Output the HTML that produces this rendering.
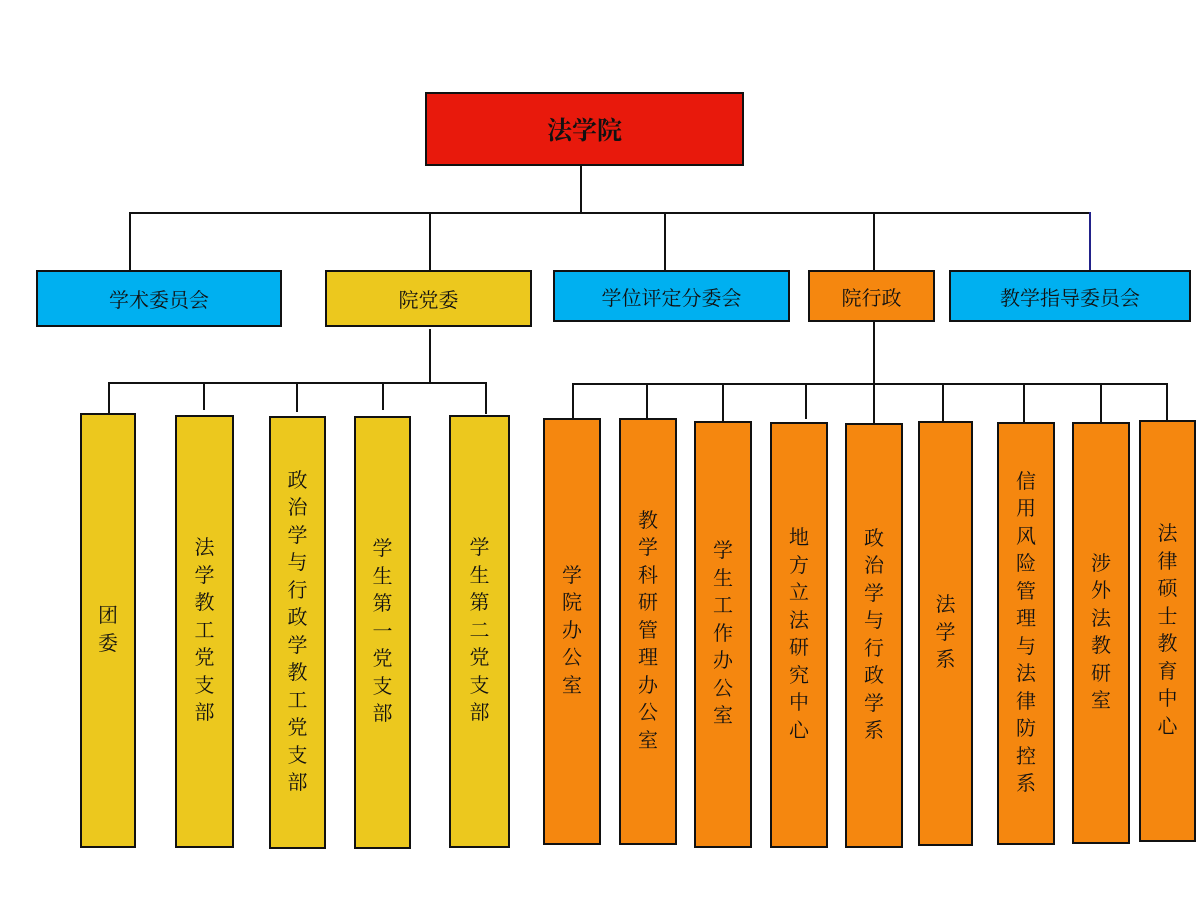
<!DOCTYPE html>
<html><head><meta charset="utf-8"><style>
body{margin:0;width:1200px;height:900px;background:#fff;position:relative;overflow:hidden;font-family:"Liberation Serif","Noto Serif CJK SC",serif;}
.b{position:absolute;box-sizing:border-box;border:2px solid #111;display:flex;align-items:center;justify-content:center;color:#111;font-size:20px;}
.v{flex-direction:column;line-height:27.5px;text-align:center;}
.l{position:absolute;background:#111;}
.B{background:#00b0f0}.Y{background:#ecc81e}.O{background:#f5870f}
</style></head><body>
<div class="b" style="left:425px;top:92px;width:319px;height:74px;background:#e8190c;font-size:25px;font-weight:bold;">法学院</div>
<div class="l" style="left:580px;top:165px;width:2px;height:49px"></div>
<div class="l" style="left:129px;top:212px;width:962px;height:2px"></div>
<div class="l" style="left:129px;top:212px;width:2px;height:58px"></div>
<div class="l" style="left:429px;top:212px;width:2px;height:58px"></div>
<div class="l" style="left:664px;top:212px;width:2px;height:58px"></div>
<div class="l" style="left:873px;top:212px;width:2px;height:58px"></div>
<div class="l" style="left:1089px;top:212px;width:2px;height:58px;background:#22228a"></div>
<div class="b B" style="left:36px;top:270px;width:246px;height:57px">学术委员会</div>
<div class="b Y" style="left:325px;top:270px;width:207px;height:57px">院党委</div>
<div class="b B" style="left:553px;top:270px;width:237px;height:52px">学位评定分委会</div>
<div class="b O" style="left:808px;top:270px;width:127px;height:52px">院行政</div>
<div class="b B" style="left:949px;top:270px;width:242px;height:52px">教学指导委员会</div>
<div class="l" style="left:429px;top:329px;width:2px;height:55px"></div>
<div class="l" style="left:108px;top:382px;width:379px;height:2px"></div>
<div class="l" style="left:108px;top:382px;width:2px;height:32px"></div>
<div class="l" style="left:203px;top:382px;width:2px;height:28px"></div>
<div class="l" style="left:296px;top:382px;width:2px;height:30px"></div>
<div class="l" style="left:382px;top:382px;width:2px;height:28px"></div>
<div class="l" style="left:485px;top:382px;width:2px;height:32px"></div>
<div class="b Y v" style="left:80px;top:413px;width:56px;height:435px">团<br>委</div>
<div class="b Y v" style="left:175px;top:415px;width:59px;height:433px">法<br>学<br>教<br>工<br>党<br>支<br>部</div>
<div class="b Y v" style="left:269px;top:416px;width:57px;height:433px">政<br>治<br>学<br>与<br>行<br>政<br>学<br>教<br>工<br>党<br>支<br>部</div>
<div class="b Y v" style="left:354px;top:416px;width:57px;height:433px">学<br>生<br>第<br>一<br>党<br>支<br>部</div>
<div class="b Y v" style="left:449px;top:415px;width:61px;height:433px">学<br>生<br>第<br>二<br>党<br>支<br>部</div>
<div class="l" style="left:873px;top:321px;width:2px;height:102px"></div>
<div class="l" style="left:572px;top:383px;width:596px;height:2px"></div>
<div class="l" style="left:572px;top:383px;width:2px;height:35px"></div>
<div class="l" style="left:646px;top:383px;width:2px;height:35px"></div>
<div class="l" style="left:722px;top:383px;width:2px;height:38px"></div>
<div class="l" style="left:805px;top:383px;width:2px;height:36px"></div>
<div class="l" style="left:942px;top:383px;width:2px;height:38px"></div>
<div class="l" style="left:1023px;top:383px;width:2px;height:39px"></div>
<div class="l" style="left:1100px;top:383px;width:2px;height:39px"></div>
<div class="l" style="left:1166px;top:383px;width:2px;height:37px"></div>
<div class="b O v" style="left:543px;top:418px;width:58px;height:427px">学<br>院<br>办<br>公<br>室</div>
<div class="b O v" style="left:619px;top:418px;width:58px;height:427px">教<br>学<br>科<br>研<br>管<br>理<br>办<br>公<br>室</div>
<div class="b O v" style="left:694px;top:421px;width:58px;height:427px">学<br>生<br>工<br>作<br>办<br>公<br>室</div>
<div class="b O v" style="left:770px;top:422px;width:58px;height:426px">地<br>方<br>立<br>法<br>研<br>究<br>中<br>心</div>
<div class="b O v" style="left:845px;top:423px;width:58px;height:425px">政<br>治<br>学<br>与<br>行<br>政<br>学<br>系</div>
<div class="b O v" style="left:918px;top:421px;width:55px;height:425px">法<br>学<br>系</div>
<div class="b O v" style="left:997px;top:422px;width:58px;height:423px">信<br>用<br>风<br>险<br>管<br>理<br>与<br>法<br>律<br>防<br>控<br>系</div>
<div class="b O v" style="left:1072px;top:422px;width:58px;height:422px">涉<br>外<br>法<br>教<br>研<br>室</div>
<div class="b O v" style="left:1139px;top:420px;width:57px;height:422px">法<br>律<br>硕<br>士<br>教<br>育<br>中<br>心</div>
</body></html>
